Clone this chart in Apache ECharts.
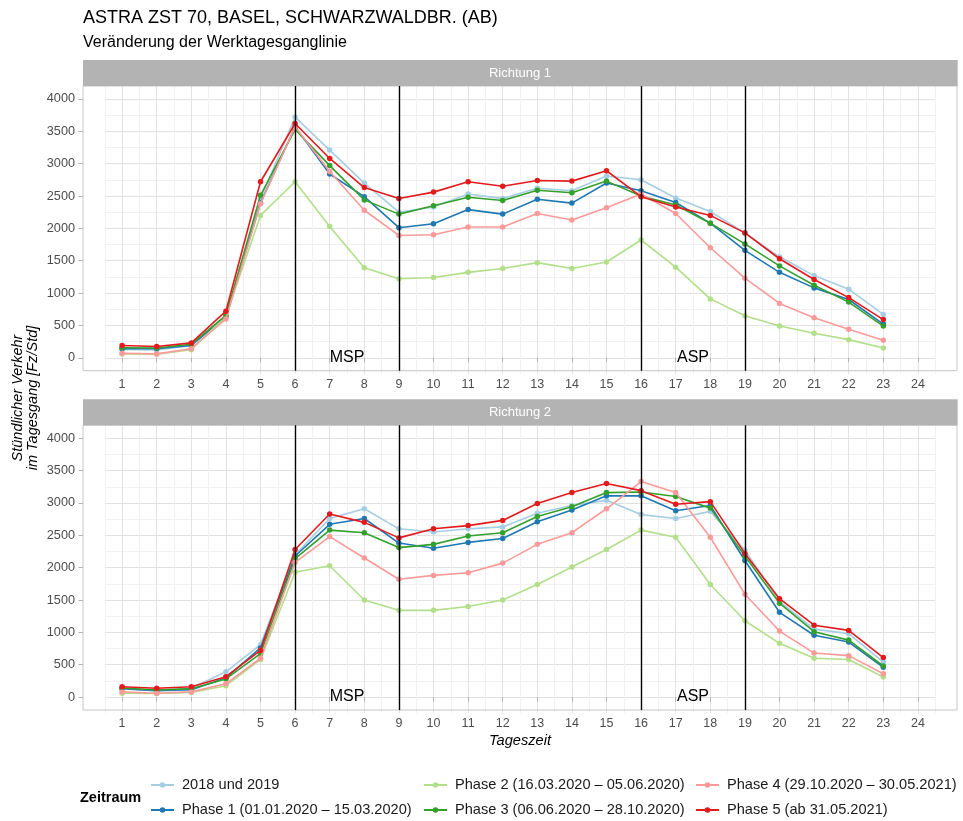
<!DOCTYPE html>
<html><head><meta charset="utf-8">
<script src="https://cdn.jsdelivr.net/npm/echarts@6/dist/echarts.min.js"></script>
<style>html,body{margin:0;padding:0;background:#fff}#c{width:963px;height:821px}</style>
</head><body><div id="c"></div>
<script>
// ---------- data ----------
const hours = [1,2,3,4,5,6,7,8,9,10,11,12,13,14,15,16,17,18,19,20,21,22,23];
const xTickLabels = [1,2,3,4,5,6,7,8,9,10,11,12,13,14,15,16,17,18,19,20,21,22,23,24];
const yTickLabels = [0,500,1000,1500,2000,2500,3000,3500,4000];
const seriesNames = ['2018 und 2019','Phase 1 (01.01.2020 – 15.03.2020)','Phase 2 (16.03.2020 – 05.06.2020)','Phase 3 (06.06.2020 – 28.10.2020)','Phase 4 (29.10.2020 – 30.05.2021)','Phase 5 (ab 31.05.2021)'];
const panelTitles = ['Richtung 1','Richtung 2'];
const peakLines = [6,9,16,19];
const peakLabels = ['MSP','ASP'];
const peakLabelPos = [7.5,17.5];

// Richtung 1
const r1_base   = [130,120,190,650,2450,3720,3210,2700,2250,2330,2530,2460,2620,2580,2810,2750,2470,2260,1930,1560,1270,1060,670];
const r1_phase1 = [140,140,190,630,2390,3570,2840,2490,2010,2070,2290,2220,2450,2390,2700,2580,2400,2080,1660,1320,1080,900,520];
const r1_phase2 = [60,55,125,640,2200,2720,2030,1390,1220,1240,1320,1380,1470,1380,1480,1820,1400,910,650,490,380,280,150];
const r1_phase3 = [155,150,210,655,2510,3530,2970,2440,2220,2350,2480,2430,2590,2550,2730,2500,2360,2080,1760,1420,1120,860,490];
const r1_phase4 = [70,60,140,600,2380,3570,2880,2280,1890,1900,2020,2020,2230,2130,2320,2530,2230,1700,1230,840,620,440,270];
const r1_phase5 = [190,175,230,720,2720,3620,3080,2630,2460,2560,2720,2650,2740,2730,2890,2490,2330,2200,1930,1530,1210,930,590];
// Richtung 2
const r2_base   = [130,100,135,390,810,2200,2760,2910,2600,2550,2600,2630,2840,2960,3040,2820,2760,2870,2270,1480,1050,980,540];
const r2_phase1 = [130,100,115,295,760,2180,2670,2760,2380,2300,2390,2450,2710,2890,3110,3110,2880,2960,2110,1310,955,850,460];
const r2_phase2 = [60,55,70,175,580,1930,2030,1500,1340,1340,1400,1500,1740,2010,2280,2580,2470,1740,1180,830,600,580,310];
const r2_phase3 = [140,110,130,280,670,2140,2580,2540,2310,2360,2490,2540,2790,2940,3160,3170,3100,2920,2180,1450,1010,880,480];
const r2_phase4 = [80,60,80,205,600,2080,2480,2150,1820,1880,1920,2070,2360,2540,2910,3330,3160,2470,1590,1020,680,640,360];
const r2_phase5 = [160,135,160,315,720,2280,2830,2700,2460,2600,2650,2730,2990,3160,3300,3190,2980,3020,2220,1520,1110,1030,610];

const panelData = [
  [r1_base,r1_phase1,r1_phase2,r1_phase3,r1_phase4,r1_phase5],
  [r2_base,r2_phase1,r2_phase2,r2_phase3,r2_phase4,r2_phase5]
];

// ---------- styles / layout ----------
const colors = ['#A6CEE3','#1F78B4','#B2DF8A','#33A02C','#FB9A99','#E31A1C'];
const FONT = '"Liberation Sans", Arial, sans-serif';
const W = 963, H = 821;
const X_RANGE = [-0.13, 25.13];
const Y_RANGE = [-200, 4200];
const PANEL_LEFT = 83, PANEL_RIGHT = 957;
const panels = [
  {top: 86, bottom: 370.7, stripTop: 60},
  {top: 425.3, bottom: 710, stripTop: 399.3}
];
const MAJOR = '#e2e2e2', MINOR = '#f1f1f1';

function sub(p, x0, x1, y0, y1) {
  const sx = (PANEL_RIGHT - PANEL_LEFT) / (X_RANGE[1] - X_RANGE[0]);
  const sy = (p.bottom - p.top) / (Y_RANGE[1] - Y_RANGE[0]);
  const l = PANEL_LEFT + (x0 - X_RANGE[0]) * sx;
  const r = PANEL_LEFT + (x1 - X_RANGE[0]) * sx;
  const t = p.bottom - (y1 - Y_RANGE[0]) * sy;
  const b = p.bottom - (y0 - Y_RANGE[0]) * sy;
  return {grid: {left: l, right: W - r, top: t, bottom: H - b}, px: {l, r, t, b}};
}

// gridline colour cycles
const xGridColors = [];
for (let v = 0.5; v <= 24.5 + 1e-9; v += 0.5) xGridColors.push(Number.isInteger(v) ? MAJOR : MINOR);
const yGridColors = [];
for (let v = -250; v <= 4250; v += 250) {
  if (v < 0 || v > 4000) yGridColors.push('rgba(0,0,0,0)');
  else yGridColors.push(v % 500 === 0 ? MAJOR : MINOR);
}

const grid = [], xAxis = [], yAxis = [], series = [], graphic = [];

panels.forEach((p, k) => {
  const G = sub(p, 0.5, 24.5, -250, 4250);
  const L = sub(p, 1, 24, 0, 4000);
  const D = sub(p, X_RANGE[0], X_RANGE[1], Y_RANGE[0], Y_RANGE[1]);
  const gi = grid.length;
  grid.push(G.grid, L.grid, D.grid);

  // gridline axes
  xAxis.push({gridIndex: gi, type: 'value', min: 0.5, max: 24.5, interval: 0.5,
    axisLine: {show: false}, axisTick: {show: false}, axisLabel: {show: false},
    splitLine: {show: true, lineStyle: {color: xGridColors, width: 1}}});
  yAxis.push({gridIndex: gi, type: 'value', min: -250, max: 4250, interval: 250,
    axisLine: {show: false}, axisTick: {show: false}, axisLabel: {show: false},
    splitLine: {show: true, lineStyle: {color: yGridColors, width: 1}}});
  // label axes
  xAxis.push({gridIndex: gi + 1, type: 'value', min: xTickLabels[0], max: xTickLabels[xTickLabels.length - 1], interval: 1,
    offset: p.bottom - L.px.b,
    axisLine: {show: false}, axisTick: {show: true, length: 4.5, lineStyle: {color: '#b3b3b3', width: 1}},
    axisLabel: {show: true, color: '#4d4d4d', fontSize: 12.5, fontFamily: FONT, margin: 7, formatter: v => String(v)},
    splitLine: {show: false}});
  yAxis.push({gridIndex: gi + 1, type: 'value', min: yTickLabels[0], max: yTickLabels[yTickLabels.length - 1], interval: 500,
    offset: L.px.l - PANEL_LEFT,
    axisLine: {show: false}, axisTick: {show: true, length: 4.5, lineStyle: {color: '#b3b3b3', width: 1}},
    axisLabel: {show: true, color: '#4d4d4d', fontSize: 12.7, fontFamily: FONT, margin: 8, formatter: v => String(v)},
    splitLine: {show: false}});
  // data axes
  xAxis.push({gridIndex: gi + 2, type: 'value', min: X_RANGE[0], max: X_RANGE[1], show: false});
  yAxis.push({gridIndex: gi + 2, type: 'value', min: Y_RANGE[0], max: Y_RANGE[1], show: false});

  panelData[k].forEach((vals, s) => {
    series.push({
      type: 'line', name: seriesNames[s], xAxisIndex: gi + 2, yAxisIndex: gi + 2,
      data: hours.map((h, i) => [h, vals[i]]),
      symbol: 'circle', symbolSize: 5.5, showSymbol: true,
      color: colors[s],
      lineStyle: {width: 1.6, color: colors[s]},
      itemStyle: {color: colors[s]},
      z: 3 + s * 0.01
    });
  });
  series.push({
    type: 'line', name: 'annot' + k, xAxisIndex: gi + 2, yAxisIndex: gi + 2, data: [],
    silent: true, z: 5,
    markLine: {silent: true, symbol: ['none', 'none'], label: {show: false},
      lineStyle: {color: '#000', width: 1.4, type: 'solid'},
      emphasis: {disabled: true},
      data: peakLines.map(v => ({xAxis: v}))},
    markPoint: {silent: true, symbol: 'rect', symbolSize: [1, 1], itemStyle: {color: 'rgba(0,0,0,0)'},
      label: {show: true, position: 'inside', formatter: '{b}', color: '#000', fontSize: 16, fontFamily: FONT},
      data: peakLabels.map((n, i) => ({name: n, coord: [peakLabelPos[i], 0]}))}
  });

  // panel border
  graphic.push({type: 'rect', z: 1, silent: true,
    shape: {x: PANEL_LEFT, y: p.top, width: PANEL_RIGHT - PANEL_LEFT, height: p.bottom - p.top},
    style: {fill: 'none', stroke: '#c6c6c6', lineWidth: 1}});
  // strip
  graphic.push({type: 'rect', z: 1, silent: true,
    shape: {x: PANEL_LEFT, y: p.stripTop, width: PANEL_RIGHT - PANEL_LEFT + 0.7, height: p.top - p.stripTop},
    style: {fill: '#b3b3b3'}});
  graphic.push({type: 'text', z: 2, silent: true, x: (PANEL_LEFT + PANEL_RIGHT) / 2, y: (p.stripTop + p.top) / 2,
    style: {text: panelTitles[k], fill: '#fff', font: '13px ' + FONT, textAlign: 'center', textVerticalAlign: 'middle'}});
});

// titles
graphic.push({type: 'text', silent: true, x: 83, y: 18.5,
  style: {text: 'ASTRA ZST 70, BASEL, SCHWARZWALDBR. (AB)', fill: '#000', font: '18px ' + FONT, textAlign: 'left', textVerticalAlign: 'middle'}});
graphic.push({type: 'text', silent: true, x: 83, y: 43,
  style: {text: 'Veränderung der Werktagesganglinie', fill: '#000', font: '16px ' + FONT, textAlign: 'left', textVerticalAlign: 'middle'}});
// axis titles
graphic.push({type: 'text', silent: true, x: 25.5, y: 398, rotation: Math.PI / 2,
  style: {text: 'Stündlicher Verkehr\nim Tagesgang [Fz/Std]', fill: '#000', font: 'italic 14.5px ' + FONT, lineHeight: 15.5, textAlign: 'center', textVerticalAlign: 'middle'}});
graphic.push({type: 'text', silent: true, x: 520, y: 741,
  style: {text: 'Tageszeit', fill: '#000', font: 'italic 14.6px ' + FONT, textAlign: 'center', textVerticalAlign: 'middle'}});
// legend title
graphic.push({type: 'text', silent: true, x: 80, y: 798,
  style: {text: 'Zeitraum', fill: '#000', font: 'bold 14.5px ' + FONT, textAlign: 'left', textVerticalAlign: 'middle'}});

const legendBase = {orient: 'vertical', top: 777, height: 60, padding: 0,
  itemWidth: 23, itemHeight: 7, itemGap: 9,
  selectedMode: false,
  textStyle: {color: '#1a1a1a', fontSize: 14.6, lineHeight: 16, fontFamily: FONT, padding: [0, 0, 0, 3]}};
const legend = [
  Object.assign({}, legendBase, {left: 150, data: [seriesNames[0], seriesNames[1]]}),
  Object.assign({}, legendBase, {left: 423, data: [seriesNames[2], seriesNames[3]]}),
  Object.assign({}, legendBase, {left: 695, data: [seriesNames[4], seriesNames[5]]})
];

const chart = echarts.init(document.getElementById('c'), null, {renderer: 'canvas'});
chart.setOption({
  animation: false,
  backgroundColor: '#fff',
  textStyle: {fontFamily: FONT},
  grid, xAxis, yAxis, series, graphic, legend
});
</script></body></html>
